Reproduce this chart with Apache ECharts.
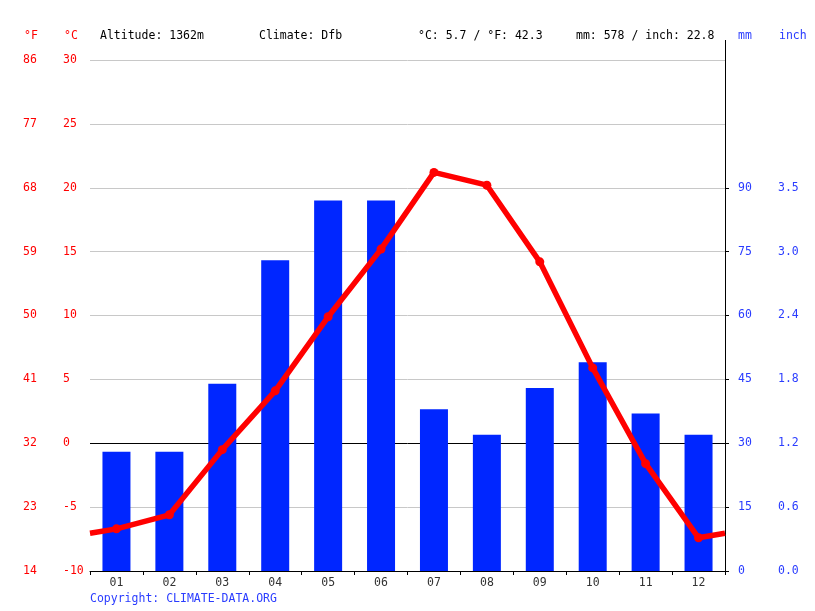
<!DOCTYPE html>
<html>
<head>
<meta charset="utf-8">
<script src="https://cdn.jsdelivr.net/npm/echarts@6/dist/echarts.min.js"></script>
<style>html,body{margin:0;padding:0;background:#fff;}#c{width:815px;height:611px;}</style>
</head>
<body>
<div id="c"></div>
<script>
var months = ['01','02','03','04','05','06','07','08','09','10','11','12'];
var precipMm = [28, 28, 44, 73, 87, 87, 38, 32, 43, 49, 37, 32];
var tempC = [-6.7, -5.6, -0.5, 4.1, 9.9, 15.2, 21.2, 20.2, 14.2, 5.9, -1.6, -7.4];
var mmTicks = [0, 15, 30, 45, 60, 75, 90];
var headerTexts = ['Altitude: 1362m', 'Climate: Dfb', '°C: 5.7 / °F: 42.3', 'mm: 578 / inch: 22.8'];

var FONT = 'DejaVu Sans Mono';
var FS = 11.5;
var RED = '#ff0000';
var BLUE = '#2a3cff';
var GL = 90, GR = 90, GT = 60, GB = 40, W = 815, H = 611;

var edge = (tempC[0] + tempC[11]) / 2;
var lineData = [{value: [0, edge], symbolSize: 0}];
tempC.forEach(function (t, i) { lineData.push({value: [i + 0.5, t]}); });
lineData.push({value: [12, edge], symbolSize: 0});

var splitColors = [-10, -5, 0, 5, 10, 15, 20, 25, 30].map(function (v) { return v === 0 ? '#000000' : '#c8c8c8'; });

var chart = echarts.init(document.getElementById('c'), null, {renderer: 'canvas'});
var txt = function (x, y, s, color) {
  return {type: 'text', x: x, y: y, style: {text: s, fill: color, font: FS + 'px "' + FONT + '"', textAlign: 'left', textVerticalAlign: 'middle'}};
};
chart.setOption({
  animation: false,
  backgroundColor: '#ffffff',
  grid: {left: GL, right: GR, top: GT, bottom: GB, containLabel: false},
  xAxis: [{
    type: 'category', data: months, boundaryGap: true,
    axisLine: {show: true, onZero: false, lineStyle: {color: '#000', width: 1}},
    axisTick: {show: true, length: 4, alignWithLabel: false, lineStyle: {color: '#000'}},
    axisLabel: {color: '#333', fontFamily: FONT, fontSize: FS, margin: 6},
    splitLine: {show: false}
  }, {
    type: 'value', min: 0, max: 12, show: false
  }],
  yAxis: [{
    type: 'value', min: -10, max: 30, interval: 5, position: 'left',
    axisLine: {show: false}, axisTick: {show: false},
    axisLabel: {color: RED, fontFamily: FONT, fontSize: FS, align: 'left', margin: 27},
    splitLine: {show: true, lineStyle: {color: splitColors, width: 1}}
  }, {
    type: 'value', min: -10, max: 30, interval: 5, position: 'left',
    axisLine: {show: false}, axisTick: {show: false},
    axisLabel: {color: RED, fontFamily: FONT, fontSize: FS, align: 'left', margin: 67,
      formatter: function (v) { return String(Math.round(v * 9 / 5 + 32)); }},
    splitLine: {show: false}
  }, {
    type: 'value', min: 0, max: 120, position: 'right',
    axisLine: {show: true, lineStyle: {color: '#000', width: 1}},
    axisTick: {show: true, length: 4, customValues: mmTicks, lineStyle: {color: '#000'}},
    axisLabel: {color: BLUE, fontFamily: FONT, fontSize: FS, align: 'left', margin: 13, customValues: mmTicks},
    splitLine: {show: false}
  }, {
    type: 'value', min: 0, max: 120, position: 'right',
    axisLine: {show: false}, axisTick: {show: false},
    axisLabel: {color: BLUE, fontFamily: FONT, fontSize: FS, align: 'left', margin: 53, customValues: mmTicks,
      formatter: function (v) { return (v / 25.4).toFixed(1); }},
    splitLine: {show: false}
  }],
  series: [{
    type: 'bar', data: precipMm, xAxisIndex: 0, yAxisIndex: 2,
    barWidth: 28, itemStyle: {color: '#0026ff'}, z: 2
  }, {
    type: 'line', data: lineData, xAxisIndex: 1, yAxisIndex: 0,
    symbol: 'circle', symbolSize: 9, showAllSymbol: true,
    lineStyle: {color: RED, width: 5.5}, itemStyle: {color: RED}, z: 3
  }],
  graphic: [
    {type: 'line', shape: {x1: W - GR + 0.5, y1: 40, x2: W - GR + 0.5, y2: GT}, style: {stroke: '#000', lineWidth: 1}},
    txt(24, 36, '°F', RED),
    txt(64, 36, '°C', RED),
    txt(100, 36, headerTexts[0], '#000'),
    txt(259, 36, headerTexts[1], '#000'),
    txt(418, 36, headerTexts[2], '#000'),
    txt(576, 36, headerTexts[3], '#000'),
    txt(738, 36, 'mm', BLUE),
    txt(779, 36, 'inch', BLUE),
    txt(90, 599, 'Copyright: CLIMATE-DATA.ORG', BLUE)
  ]
});
</script>
</body>
</html>
